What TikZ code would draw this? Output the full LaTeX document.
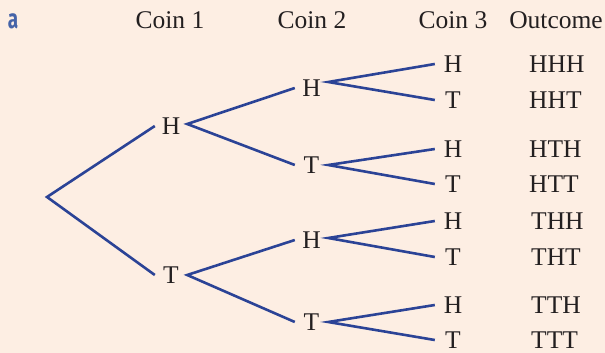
\documentclass[tikz,border=0pt]{standalone}
\usepackage{fontspec}
\setmainfont{Liberation Serif}
\newfontfamily\labelfont{Fira Sans}
\definecolor{bgpeach}{HTML}{FDEEE3}
\definecolor{treeblue}{HTML}{2B4396}
\definecolor{txtgray}{HTML}{231F20}
\definecolor{lblblue}{HTML}{4563A8}
\begin{document}
\begin{tikzpicture}[x=1pt,y=-1pt,
  every node/.style={text=txtgray,font=\fontsize{25.5}{30}\selectfont},
  head/.style={anchor=base,inner sep=0pt},
  c1/.style={inner xsep=0pt,inner ysep=1pt,minimum width=32pt},
  c2/.style={inner xsep=0pt,inner ysep=1pt,minimum width=33pt},
  c3/.style={inner xsep=0pt,inner ysep=1pt,minimum width=36pt},
  outc/.style={anchor=west,inner sep=0pt},
  branch/.style={draw=treeblue,line width=2.6pt,line cap=butt,line join=miter}]
\fill[bgpeach] (0,0) rectangle (605,353);
\useasboundingbox (0,0) rectangle (605,353);
% label
\node[inner sep=0pt,anchor=base,text=lblblue,font=\labelfont\bfseries\fontsize{27}{30}\selectfont,xscale=0.7] (lbl) at (13,29) {a};
% headers
\node[head] (hd1) at (170,29) {Coin 1};
\node[head] (hd2) at (312,29) {Coin 2};
\node[head] (hd3) at (453,29) {Coin 3};
\node[head] (hd4) at (556,29) {Outcome};
% root
\coordinate (r) at (47,197);
% coin 1
\node[c1] (a1) at (171,126) {H};
\node[c1] (a2) at (171,275) {T};
% coin 2
\node[c2] (b1) at (311.5,88) {H};
\node[c2] (b2) at (311.5,165) {T};
\node[c2] (b3) at (311.5,240) {H};
\node[c2] (b4) at (311.5,322) {T};
% coin 3
\node[c3] (d1) at (453,64) {H};
\node[c3] (d2) at (453,100) {T};
\node[c3] (d3) at (453,149) {H};
\node[c3] (d4) at (453,184) {T};
\node[c3] (d5) at (453,221) {H};
\node[c3] (d6) at (453,257) {T};
\node[c3] (d7) at (453,305) {H};
\node[c3] (d8) at (453,340) {T};
% outcomes
\node[outc] (o1) at (529,64) {HHH};
\node[outc] (o2) at (529,100) {HHT};
\node[outc] (o3) at (529,149) {HTH};
\node[outc] (o4) at (529,184) {HTT};
\node[outc] (o5) at (531,221) {THH};
\node[outc] (o6) at (531,257) {THT};
\node[outc] (o7) at (531,305) {TTH};
\node[outc] (o8) at (531,340) {TTT};
% branches
\draw[branch] (a1.west) -- (r) -- (a2.west);
\draw[branch] (b1.west) -- ([yshift=2pt]a1.east) -- (b2.west);
\draw[branch] (b3.west) -- (a2.east) -- (b4.west);
\draw[branch] (d1.west) -- ([yshift=6pt]b1.east) -- (d2.west);
\draw[branch] (d3.west) -- (b2.east) -- (d4.west);
\draw[branch] (d5.west) -- ([yshift=2pt]b3.east) -- (d6.west);
\draw[branch] (d7.west) -- (b4.east) -- (d8.west);
\end{tikzpicture}
\end{document}
